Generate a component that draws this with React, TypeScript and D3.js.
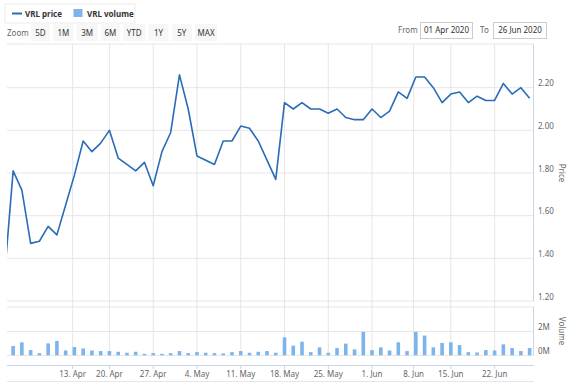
import React from "react";
import * as d3 from "d3";

// ---- data ----
const dates = [
  "2020-03-31",
  "2020-04-01", "2020-04-02", "2020-04-03", "2020-04-06", "2020-04-07", "2020-04-08", "2020-04-09",
  "2020-04-14", "2020-04-15", "2020-04-16", "2020-04-17", "2020-04-20", "2020-04-21", "2020-04-22",
  "2020-04-23", "2020-04-24", "2020-04-27", "2020-04-28", "2020-04-29", "2020-04-30",
  "2020-05-01", "2020-05-04", "2020-05-05", "2020-05-06", "2020-05-07", "2020-05-08",
  "2020-05-11", "2020-05-12", "2020-05-13", "2020-05-14", "2020-05-15",
  "2020-05-18", "2020-05-19", "2020-05-20", "2020-05-21", "2020-05-22",
  "2020-05-25", "2020-05-26", "2020-05-27", "2020-05-28", "2020-05-29",
  "2020-06-01", "2020-06-02", "2020-06-03", "2020-06-04", "2020-06-05",
  "2020-06-09", "2020-06-10", "2020-06-11", "2020-06-12",
  "2020-06-15", "2020-06-16", "2020-06-17", "2020-06-18", "2020-06-19",
  "2020-06-22", "2020-06-23", "2020-06-24", "2020-06-25", "2020-06-26",
];

const prices = [
  1.31,
  1.81, 1.72, 1.47, 1.48, 1.55, 1.51, 1.65, 1.79, 1.95, 1.90,
  1.94, 2.00, 1.87, 1.84, 1.81, 1.85, 1.74, 1.90, 1.99, 2.26,
  2.10, 1.88, 1.86, 1.84, 1.95, 1.95, 2.02, 2.01, 1.95, 1.86,
  1.77, 2.13, 2.10, 2.13, 2.10, 2.10, 2.08, 2.10, 2.06, 2.05,
  2.05, 2.10, 2.06, 2.09, 2.18, 2.15, 2.25, 2.25, 2.20, 2.13,
  2.17, 2.18, 2.13, 2.16, 2.14, 2.14, 2.22, 2.17, 2.20, 2.15,
];

// volume, millions of shares
const volumes = [
  0.5,
  0.79, 1.10, 0.45, 0.20, 1.01, 1.21, 0.42, 0.70, 0.59, 0.42,
  0.37, 0.37, 0.31, 0.23, 0.31, 0.14, 0.20, 0.14, 0.20, 0.37,
  0.20, 0.28, 0.23, 0.20, 0.17, 0.28, 0.37, 0.23, 0.31, 0.37,
  0.23, 1.52, 0.82, 1.15, 0.28, 0.68, 0.23, 0.62, 0.99, 0.51,
  1.97, 0.45, 0.68, 0.42, 1.10, 0.37, 1.97, 1.66, 0.68, 1.04,
  1.10, 0.87, 0.28, 0.25, 0.45, 0.42, 0.93, 0.62, 0.37, 0.62,
];

const xTickDates = [
  "2020-04-13", "2020-04-20", "2020-04-27", "2020-05-04", "2020-05-11", "2020-05-18",
  "2020-05-25", "2020-06-01", "2020-06-08", "2020-06-15", "2020-06-22",
];
const xTickLabels = [
  "13. Apr", "20. Apr", "27. Apr", "4. May", "11. May", "18. May",
  "25. May", "1. Jun", "8. Jun", "15. Jun", "22. Jun",
];

const priceTicks = [1.2, 1.4, 1.6, 1.8, 2.0, 2.2];
const volumeTicks = [0, 2];
const zoomButtons = ["5D", "1M", "3M", "6M", "YTD", "1Y", "5Y", "MAX"];
const seriesNames = ["VRL price", "VRL volume"];
const rangeFrom = "01 Apr 2020";
const rangeTo = "26 Jun 2020";

// ---- layout ----
const W = 570;
const H = 386;
const left = 7;
const right = 534;
const priceTop = 45;
const priceBottom = 301;
const volTop = 307.5;
const volBottom = 355.5;
const axisY = 365;

const LINE = "#2a6cb6";
const BAR = "#7cb5ec";
const GRID = "#e6e6e6";
const AXIS = "#ccd6eb";
const LABEL = "#666666";
const FONT = "'Noto Sans', 'Open Sans', sans-serif";

const parse = d3.utcParse("%Y-%m-%d");
const times = dates.map((d) => (parse(d) as Date).getTime());

function ordinal(t: number): number {
  for (let i = 0; i < times.length - 1; i++) {
    if (t >= times[i] && t < times[i + 1]) {
      return i + (t - times[i]) / (times[i + 1] - times[i]);
    }
  }
  return times.length - 1;
}

export default function App() {
  const x = d3.scaleLinear().domain([0.3, 60.5]).range([left, right]);
  const yP = d3.scaleLinear().domain([1.2, 2.4]).range([priceBottom, priceTop]);
  const yV = d3.scaleLinear().domain([0, 4]).range([volBottom, volTop]);

  const line = d3
    .line<number>()
    .x((_, i) => x(i))
    .y((d) => yP(d));

  const tickPos = xTickDates.map((d) => x(ordinal((parse(d) as Date).getTime())));

  // zoom button layout
  const btnWidths = [19, 20, 21, 19, 22, 20, 20, 22];
  const btnStarts: number[] = [];
  let bx = 31;
  btnWidths.forEach((w) => {
    btnStarts.push(bx);
    bx += w + 3.3;
  });

  const barW = 3.6;

  return (
    <div style={{ position: "absolute", left: 0, top: 0 }}>
      <svg width={W} height={H} style={{ display: "block", background: "#fff", fontFamily: FONT }}>
        <defs>
          <clipPath id="plotClip">
            <rect x={left} y={priceTop - 2} width={right - left} height={priceBottom - priceTop + 4} />
          </clipPath>
          <clipPath id="volClip">
            <rect x={left} y={volTop} width={right - left} height={volBottom - volTop} />
          </clipPath>
        </defs>

        {/* legend */}
        <rect x={5} y={4} width={130} height={19} fill="#fff" stroke="#ececec" strokeWidth={1} />
        <line x1={12} x2={22} y1={13.5} y2={13.5} stroke={LINE} strokeWidth={2} />
        <text x={25} y={16.5} fontSize={8} fontWeight="bold" fill="#333">{seriesNames[0]}</text>
        <rect x={73.5} y={9} width={9} height={8} fill={BAR} />
        <text x={87} y={16.5} fontSize={8} fontWeight="bold" fill="#333">{seriesNames[1]}</text>

        {/* range selector */}
        <text x={7} y={36} fontSize={8} fill={LABEL}>Zoom</text>
        {zoomButtons.map((b, i) => (
          <g key={b}>
            <rect x={btnStarts[i]} y={24} width={btnWidths[i]} height={17} fill="#f7f7f7" />
            <text x={btnStarts[i] + btnWidths[i] / 2} y={35.5} fontSize={8} fill="#333" textAnchor="middle">{b}</text>
          </g>
        ))}
        <text x={398} y={33} fontSize={8} fill={LABEL}>From</text>
        <rect x={420.5} y={22.5} width={52} height={16} fill="#fff" stroke="#cccccc" />
        <text x={446.5} y={33} fontSize={8} fill="#333" textAnchor="middle">{rangeFrom}</text>
        <text x={480} y={33} fontSize={8} fill={LABEL}>To</text>
        <rect x={493.5} y={22.5} width={53} height={16} fill="#fff" stroke="#cccccc" />
        <text x={520} y={33} fontSize={8} fill="#333" textAnchor="middle">{rangeTo}</text>

        {/* vertical grid */}
        {tickPos.map((p, i) => (
          <line key={"vg" + i} x1={p} x2={p} y1={44} y2={volBottom + 1} stroke={GRID} strokeWidth={1} />
        ))}

        {/* price grid */}
        <line x1={left} x2={right} y1={44} y2={44} stroke={GRID} />
        {priceTicks.map((t) => (
          <g key={"pg" + t}>
            <line x1={left} x2={right} y1={yP(t)} y2={yP(t)} stroke={GRID} strokeWidth={1} />
            <text x={538} y={yP(t) - 1.5} fontSize={8} fill={LABEL}>{t.toFixed(2)}</text>
          </g>
        ))}

        {/* volume grid */}
        <line x1={left} x2={right} y1={volTop - 0.5} y2={volTop - 0.5} stroke={GRID} />
        {volumeTicks.map((t) => (
          <g key={"vgr" + t}>
            <line x1={left} x2={right} y1={yV(t)} y2={yV(t)} stroke={GRID} strokeWidth={1} />
            <text x={538} y={yV(t) - 1.5} fontSize={8} fill={LABEL}>{t + "M"}</text>
          </g>
        ))}

        {/* right axis lines */}
        <line x1={right - 0.5} x2={right - 0.5} y1={44} y2={priceBottom} stroke={AXIS} />
        <line x1={right - 0.5} x2={right - 0.5} y1={volTop - 0.5} y2={volBottom} stroke={AXIS} />

        {/* axis titles */}
        <text transform={`translate(559,173) rotate(90)`} fontSize={8} fill={LABEL} textAnchor="middle">Price</text>
        <text transform={`translate(559,331) rotate(90)`} fontSize={8} fill={LABEL} textAnchor="middle">Volume</text>

        {/* volume bars */}
        <g clipPath="url(#volClip)">
          {volumes.map((v, i) => (
            <rect key={"b" + i} x={x(i) - barW / 2} y={yV(v)} width={barW} height={yV(0) - yV(v)} fill={BAR} />
          ))}
        </g>

        {/* price line */}
        <g clipPath="url(#plotClip)">
          <path d={line(prices) || ""} fill="none" stroke={LINE} strokeWidth={1.6} strokeLinejoin="round" />
        </g>

        {/* x axis */}
        <line x1={left} x2={right} y1={axisY + 0.5} y2={axisY + 0.5} stroke={AXIS} />
        {tickPos.map((p, i) => (
          <g key={"xt" + i}>
            <line x1={p} x2={p} y1={axisY} y2={axisY + 4} stroke={AXIS} />
            <text x={p} y={377} fontSize={8} fill={LABEL} textAnchor="middle">{xTickLabels[i]}</text>
          </g>
        ))}
        <line x1={left} x2={right} y1={381.5} y2={381.5} stroke={GRID} />
      </svg>
    </div>
  );
}
